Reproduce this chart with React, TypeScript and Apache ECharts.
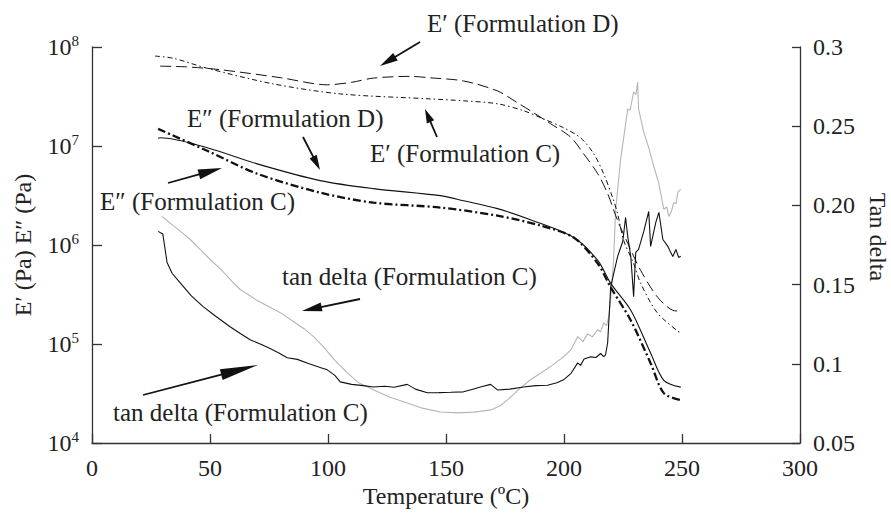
import React, { useEffect, useRef } from "react";
import * as echarts from "echarts";

// ---------- data ----------
const tempEpD = [28.9, 40, 54.3, 79.8, 99.7, 110, 119.2, 134.9, 143.4, 157.4, 171.8, 180.3, 185.8, 194.3, 202.8, 208.3, 214.3, 218.5, 222.7, 227.0, 232.5, 239.7, 246.1, 250];
const valEpD = [6.4e7, 6.3e7, 5.9e7, 4.9e7, 4.15e7, 4.4e7, 4.85e7, 5.05e7, 4.88e7, 4.54e7, 3.6e7, 2.73e7, 2.27e7, 1.68e7, 1.23e7, 8.36e6, 5.25e6, 3.3e6, 1.77e6, 1.04e6, 5.53e5, 2.96e5, 2.19e5, 2.14e5];

const tempEpC = [26.7, 34.4, 48.8, 76.8, 105.2, 143.4, 157.4, 171.8, 182.9, 191.3, 199.8, 207.0, 212.6, 216.8, 220.6, 222.7, 225.3, 229.5, 232.5, 239.7, 249.5];
const valEpC = [8.1e7, 7.7e7, 6.1e7, 4.24e7, 3.36e7, 2.99e7, 2.86e7, 2.67e7, 2.27e7, 1.88e7, 1.53e7, 1.21e7, 8.36e6, 5.25e6, 3.01e6, 2.08e6, 1.11e6, 6.5e5, 4.1e5, 2.04e5, 1.28e5];

const tempEppD = [28.0, 28.9, 48.8, 70.0, 96.7, 119.2, 147.6, 157.4, 171.8, 185.8, 204.1, 214.3, 219.8, 228.3, 236.7, 242.3, 249.5];
const valEppD = [1.2e7, 1.21e7, 9.6e6, 6.6e6, 4.47e6, 3.71e6, 3.15e6, 2.8e6, 2.33e6, 1.8e6, 1.19e6, 6.98e5, 4.1e5, 2.19e5, 8.1e4, 4.3e4, 3.67e4];

const tempEppC = [28.0, 48.8, 70.0, 96.7, 119.2, 147.6, 171.8, 190.1, 204.1, 214.3, 219.8, 228.3, 236.7, 242.3, 249.5];
const valEppC = [1.49e7, 8.95e6, 5.25e6, 3.38e6, 2.68e6, 2.39e6, 1.98e6, 1.57e6, 1.19e6, 6.5e5, 3.73e5, 1.73e5, 6.4e4, 3.19e4, 2.71e4];

const tempTanBlack = [28.0, 30.0, 31.0, 31.8, 34.0, 37.3, 42.0, 47.1, 52.0, 58.5, 63.0, 67.0, 72.0, 75.0, 79.0, 82.7, 87.0, 92.0, 97.0, 99.7, 103.0, 105.2, 110.0, 115.0, 119.2, 124.0, 128.0, 133.6, 137.0, 142.1, 147.0, 152.0, 157.4, 161.0, 165.0, 168.9, 171.8, 177.0, 182.9, 188.0, 193.0, 197.0, 199.8, 203.0, 205.8, 207.0, 208.5, 211.3, 213.5, 215.5, 216.8, 217.6, 218.5, 219.8, 222.7, 224.9, 226.1, 227.0, 228.3, 229.5, 230.4, 231.6, 233.8, 235.9, 236.7, 238.9, 240.2, 241.9, 244.0, 246.1, 247.4, 248.6, 249.5];
const valTanBlack = [0.1836, 0.182, 0.172, 0.164, 0.157, 0.1513, 0.143, 0.1361, 0.1305, 0.1234, 0.119, 0.1152, 0.112, 0.11, 0.107, 0.1038, 0.1028, 0.1, 0.0975, 0.0962, 0.0925, 0.0886, 0.087, 0.0862, 0.0854, 0.0858, 0.0852, 0.087, 0.084, 0.0817, 0.0818, 0.082, 0.0823, 0.0838, 0.0855, 0.087, 0.0835, 0.084, 0.0854, 0.0862, 0.0865, 0.088, 0.0899, 0.094, 0.1006, 0.099, 0.103, 0.1044, 0.104, 0.1065, 0.1045, 0.1057, 0.1133, 0.1487, 0.1677, 0.1772, 0.1924, 0.1804, 0.1677, 0.1424, 0.1703, 0.1722, 0.1836, 0.1962, 0.1741, 0.1893, 0.1956, 0.1785, 0.1741, 0.1677, 0.1722, 0.1671, 0.168];

const tempTanGrey = [29.7, 33, 38, 42, 45.8, 50, 55, 60, 62.8, 70, 75, 79.8, 85, 90, 94, 98.0, 103, 108.2, 113, 119.2, 126, 133.6, 140, 147.6, 155, 162, 168.9, 173, 176.1, 181, 185.8, 190, 195, 199.8, 203, 205.8, 208, 210, 212, 214.3, 215.5, 216.8, 218.0, 219.0, 219.8, 221.0, 221.9, 224.0, 225.5, 227.0, 228.0, 229.5, 230.5, 231.2, 231.6, 232.5, 233.8, 236, 238.0, 240, 242.3, 243.5, 244.4, 245.5, 246.5, 247.5, 248.2, 249.5];
const valTanGrey = [0.193, 0.189, 0.183, 0.178, 0.1722, 0.166, 0.159, 0.151, 0.1469, 0.14, 0.136, 0.1323, 0.127, 0.122, 0.117, 0.1108, 0.102, 0.0943, 0.088, 0.0836, 0.079, 0.0753, 0.072, 0.0696, 0.069, 0.0695, 0.0709, 0.0735, 0.0772, 0.084, 0.0899, 0.094, 0.099, 0.1044, 0.109, 0.1171, 0.114, 0.119, 0.117, 0.1215, 0.12, 0.126, 0.124, 0.13, 0.1405, 0.1658, 0.1975, 0.2291, 0.245, 0.2608, 0.26, 0.2716, 0.27, 0.2779, 0.2608, 0.255, 0.2462, 0.236, 0.2247, 0.215, 0.1975, 0.199, 0.193, 0.196, 0.2019, 0.201, 0.2082, 0.2101];

const xTicks = [0, 50, 100, 150, 200, 250, 300];
const tanTickLabels: Record<number, string> = { 5: "0.05", 10: "0.1", 15: "0.15", 20: "0.20", 25: "0.25", 30: "0.3" };

const annotationTexts = [
  "E\u2032 (Formulation D)",
  "E\u2033 (Formulation D)",
  "E\u2032 (Formulation C)",
  "E\u2033 (Formulation C)",
  "tan delta (Formulation C)",
  "tan delta (Formulation C)",
];

const FONT = "Liberation Serif";

function zip(a: number[], b: number[]) {
  return a.map((t, i) => [t, b[i]]);
}

function arrow(x1: number, y1: number, x2: number, y2: number, head: number, half: number) {
  const dx = x2 - x1;
  const dy = y2 - y1;
  const len = Math.sqrt(dx * dx + dy * dy);
  const ux = dx / len;
  const uy = dy / len;
  const bx = x2 - ux * head;
  const by = y2 - uy * head;
  const px = -uy;
  const py = ux;
  return [
    {
      type: "line",
      shape: { x1, y1, x2: bx + ux * 2, y2: by + uy * 2 },
      style: { stroke: "#111", lineWidth: 1.8 },
    },
    {
      type: "polygon",
      shape: {
        points: [
          [x2, y2],
          [bx + px * half, by + py * half],
          [bx - px * half, by - py * half],
        ],
      },
      style: { fill: "#111" },
    },
  ];
}

export default function App() {
  const ref = useRef<HTMLDivElement>(null);

  useEffect(() => {
    if (!ref.current) return;
    const chart = echarts.init(ref.current, null, { renderer: "svg" });

    const axisLineStyle = { color: "#333", width: 1.3 };
    const labelBase = { fontFamily: FONT, fontSize: 24, color: "#222" };

    const textPos = [
      [427, 23],
      [187, 118],
      [370, 153],
      [100, 201],
      [282, 276],
      [113, 412],
    ];

    const txt = (text: string, x: number, y: number, size: number, align: string, rotation = 0) => ({
      type: "text",
      x,
      y,
      rotation,
      style: { text, fontFamily: FONT, fontSize: size, fill: "#222", align, verticalAlign: "middle" },
    });

    const graphics: any[] = [];
    annotationTexts.forEach((t, i) => {
      graphics.push(txt(t, textPos[i][0], textPos[i][1], 25, "left"));
    });
    graphics.push(
      ...arrow(420, 42, 380, 66, 18, 4.5),
      ...arrow(303, 137, 320, 170, 15, 4),
      ...arrow(437, 137, 425, 109, 14, 4),
      ...arrow(168, 183, 222, 168, 24, 5),
      ...arrow(360, 299, 302, 311, 20, 4.5),
      ...arrow(143, 395, 258, 365, 38, 5.5)
    );
    graphics.push(
      txt("Temperature (\u00BAC)", 446, 496, 24, "center"),
      txt("E\u2032 (Pa) E\u2033 (Pa)", 23, 245, 24, "center", Math.PI / 2),
      txt("Tan delta", 878, 237, 24, "center", -Math.PI / 2)
    );

    const lineSeries = (name: string, data: number[][], yIndex: number, style: any, smooth: boolean | number) => ({
      name,
      type: "line",
      yAxisIndex: yIndex,
      data,
      showSymbol: false,
      symbol: "none",
      smooth,
      lineStyle: style,
      z: 3,
    });

    chart.setOption({
      animation: false,
      textStyle: { fontFamily: FONT },
      grid: { left: 92, right: 91, top: 47, bottom: 75 },
      xAxis: {
        type: "value",
        min: xTicks[0],
        max: xTicks[xTicks.length - 1],
        interval: 50,
        axisLine: { show: true, lineStyle: axisLineStyle },
        axisTick: { show: true, inside: true, length: 9, lineStyle: axisLineStyle },
        axisLabel: { ...labelBase, margin: 13 },
        splitLine: { show: false },
      },
      yAxis: [
        {
          type: "log",
          logBase: 10,
          min: 1e4,
          max: 1e8,
          splitNumber: 4,
          position: "left",
          axisLine: { show: true, lineStyle: axisLineStyle },
          axisTick: { show: true, inside: true, length: 10, lineStyle: axisLineStyle },
          minorTick: { show: false },
          axisLabel: {
            ...labelBase,
            margin: 13,
            formatter: (v: number) => "{b|10}{s|" + Math.round(Math.log10(v)) + "}",
            rich: {
              b: { fontFamily: FONT, fontSize: 24, color: "#222" },
              s: { fontFamily: FONT, fontSize: 15, color: "#222", padding: [0, 0, 12, 0] },
            },
          },
          splitLine: { show: false },
        },
        {
          type: "value",
          min: 0.05,
          max: 0.3,
          interval: 0.05,
          position: "right",
          axisLine: { show: true, lineStyle: axisLineStyle },
          axisTick: { show: true, inside: true, length: 8, lineStyle: axisLineStyle },
          axisLabel: {
            ...labelBase,
            margin: 13,
            formatter: (v: number) => tanTickLabels[Math.round(v * 100)] ?? "",
          },
          splitLine: { show: false },
        },
      ],
      series: [
        lineSeries("tan delta grey", zip(tempTanGrey, valTanGrey), 1, { color: "#b5b5b5", width: 1.1 }, false),
        lineSeries("tan delta black", zip(tempTanBlack, valTanBlack), 1, { color: "#111", width: 1.1 }, false),
        lineSeries("E' D", zip(tempEpD, valEpD), 0, { color: "#111", width: 1, type: [11, 5] }, 0.3),
        lineSeries("E' C", zip(tempEpC, valEpC), 0, { color: "#111", width: 1, type: [5, 3, 1.5, 3] }, 0.3),
        lineSeries("E'' D", zip(tempEppD, valEppD), 0, { color: "#111", width: 1.1 }, 0.3),
        lineSeries("E'' C", zip(tempEppC, valEppC), 0, { color: "#111", width: 2.3, type: [8, 3, 2, 3] }, 0.3),
      ],
      graphic: graphics,
    });

    return () => chart.dispose();
  }, []);

  return (
    <div
      ref={ref}
      style={{ position: "fixed", left: 0, top: 0, width: 891, height: 518, background: "#fff" }}
    />
  );
}
